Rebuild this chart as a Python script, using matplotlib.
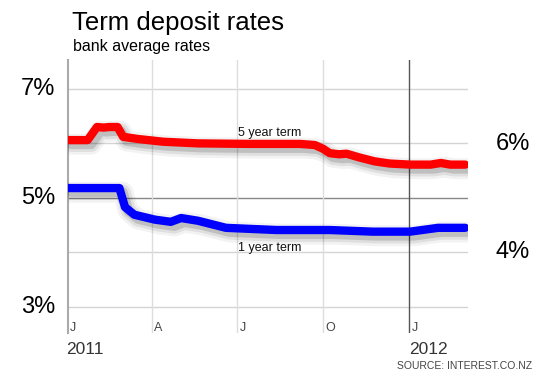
import matplotlib
matplotlib.use('Agg')
import matplotlib.pyplot as plt
import matplotlib.dates as mdates
import matplotlib.patheffects as pe
import pandas as pd

plt.rcParams['font.family'] = ['Liberation Sans', 'DejaVu Sans']

# 5 year term (bank average, %)
five_dates = ["2011-01-01", "2011-01-22", "2011-02-01", "2011-02-08", "2011-02-14",
              "2011-02-23", "2011-03-01", "2011-03-17", "2011-04-13", "2011-05-20",
              "2011-07-13", "2011-09-06", "2011-09-22", "2011-10-01", "2011-10-08",
              "2011-10-18", "2011-10-26", "2011-11-09", "2011-11-25", "2011-12-11",
              "2012-01-02", "2012-01-24", "2012-02-04", "2012-02-14", "2012-03-01"]
five_vals = [6.06, 6.06, 6.30, 6.29, 6.30,
             6.30, 6.12, 6.08, 6.03, 6.00,
             5.99, 5.99, 5.97, 5.90, 5.82,
             5.80, 5.81, 5.74, 5.67, 5.63,
             5.61, 5.61, 5.64, 5.61, 5.61]

# 1 year term
one_dates = ["2011-01-01", "2011-02-25", "2011-03-03", "2011-03-13", "2011-04-04",
             "2011-04-21", "2011-05-02", "2011-05-20", "2011-06-19", "2011-08-12",
             "2011-10-08", "2011-11-23", "2012-01-02", "2012-02-01", "2012-03-01"]
one_vals = [5.18, 5.18, 4.83, 4.69, 4.60,
            4.56, 4.63, 4.58, 4.45, 4.41,
            4.41, 4.38, 4.38, 4.45, 4.45]

tick_dates = ["2011-01-01", "2011-04-01", "2011-07-01", "2011-10-01", "2012-01-01"]
tick_labels = ["J", "A", "J", "O", "J"]
left_levels = [7, 5, 3]
right_levels = [6, 4]

fig = plt.figure(figsize=(5.5, 3.75), dpi=100)
ax = fig.add_axes([68/550, 1-333/375, 400/550, 273/375])

x0 = mdates.date2num(pd.Timestamp("2011-01-01"))
x1 = mdates.date2num(pd.Timestamp("2012-03-04"))
ax.set_xlim(x0, x1)
ax.set_ylim(2.52, 7.53)

for s in ['top', 'right', 'bottom']:
    ax.spines[s].set_visible(False)
ax.spines['left'].set_color('#aaaaaa')
ax.spines['left'].set_linewidth(1.5)
ax.set_xticks([])
ax.set_yticks([])

# grid
for lv in [7, 6, 5, 4, 3]:
    ax.axhline(lv, color='#888888' if lv == 5 else '#d4d4d4', lw=1, zorder=1)
for i, d in enumerate(tick_dates):
    xd = mdates.date2num(pd.Timestamp(d))
    if i > 0:
        ax.axvline(xd, color='#555555' if i == 4 else '#dddddd', lw=1, zorder=1)
    ax.text(xd + 2.5, 2.62, tick_labels[i], fontsize=9, color='#444444',
            ha='left', va='center')


def shadow():
    return [pe.SimpleLineShadow(offset=(2.5, -3), shadow_color='k', alpha=0.05, linewidth=15),
            pe.SimpleLineShadow(offset=(2.5, -3), shadow_color='k', alpha=0.08, linewidth=11),
            pe.SimpleLineShadow(offset=(2.5, -3), shadow_color='k', alpha=0.14, linewidth=7),
            pe.Normal()]


ax.plot(pd.to_datetime(five_dates), five_vals, color='#ff0000', lw=6,
        solid_capstyle='round', solid_joinstyle='round', path_effects=shadow(), zorder=3)
ax.plot(pd.to_datetime(one_dates), one_vals, color='#0000ff', lw=6,
        solid_capstyle='round', solid_joinstyle='round', path_effects=shadow(), zorder=3)

ax.text(mdates.date2num(pd.Timestamp("2011-07-02")), 6.19, "5 year term",
        fontsize=9, color='#111111', va='center')
ax.text(mdates.date2num(pd.Timestamp("2011-07-02")), 4.08, "1 year term",
        fontsize=9, color='#111111', va='center')

# text outside axes
fig.text(72/550, 1-23/375, "Term deposit rates", fontsize=18.5, va='center', ha='left')
fig.text(73/550, 1-47/375, "bank average rates", fontsize=11.5, va='center', ha='left')
for lv in left_levels:
    yf = 1 - (89 + (7 - lv) * 54.5) / 375
    fig.text(55/550, yf, f"{lv}%", fontsize=17, ha='right', va='center')
for lv in right_levels:
    yf = 1 - (89 + (7 - lv) * 54.5) / 375
    fig.text(496/550, yf, f"{lv}%", fontsize=17, ha='left', va='center')
fig.text(66/550, 1-349/375, "2011", fontsize=12.5, color='#333333', va='center')
fig.text(409/550, 1-349/375, "2012", fontsize=12.5, color='#333333', va='center')
fig.text(397/550, 1-366/375, "SOURCE: INTEREST.CO.NZ", fontsize=7.5,
         color='#444444', va='center')

fig.savefig('out.png', dpi=100)
